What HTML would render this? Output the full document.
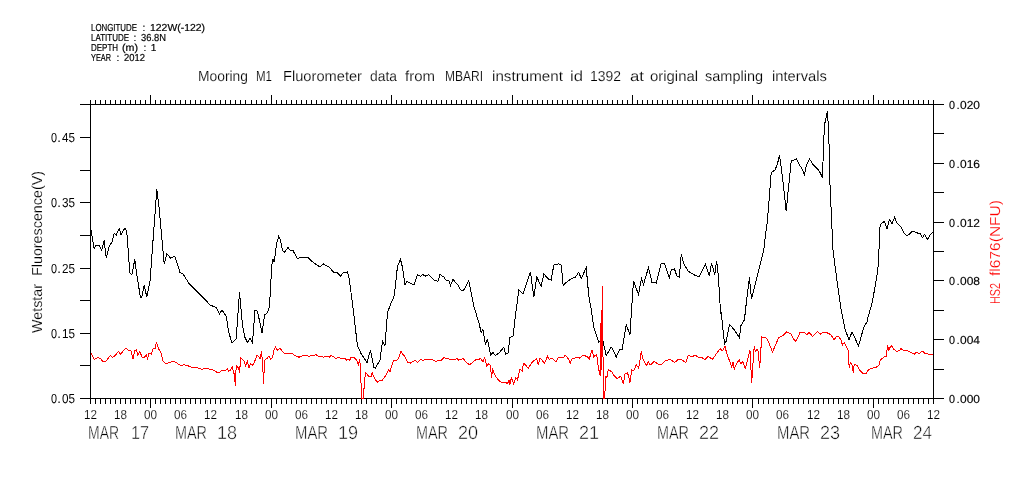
<!DOCTYPE html>
<html><head><meta charset="utf-8"><title>Mooring M1 Fluorometer</title>
<style>html,body{margin:0;padding:0;background:#fff;width:1009px;height:504px;overflow:hidden}svg{display:block}text{font-family:"Liberation Sans",sans-serif}</style>
</head><body><svg width="1009" height="504" viewBox="0 0 1009 504">
<rect width="1009" height="504" fill="#fff"/>
<g shape-rendering="crispEdges"><rect x="80" y="104" width="864" height="1" fill="#000"/><rect x="80" y="398" width="864" height="1" fill="#000"/><rect x="90" y="104" width="1" height="295" fill="#000"/><rect x="933" y="104" width="1" height="295" fill="#000"/><rect x="90" y="100" width="1" height="4" fill="#000"/><rect x="90" y="399" width="1" height="5" fill="#000"/><rect x="95" y="100" width="1" height="4" fill="#000"/><rect x="95" y="399" width="1" height="5" fill="#000"/><rect x="100" y="100" width="1" height="4" fill="#000"/><rect x="100" y="399" width="1" height="5" fill="#000"/><rect x="105" y="100" width="1" height="4" fill="#000"/><rect x="105" y="399" width="1" height="5" fill="#000"/><rect x="110" y="100" width="1" height="4" fill="#000"/><rect x="110" y="399" width="1" height="5" fill="#000"/><rect x="115" y="100" width="1" height="4" fill="#000"/><rect x="115" y="399" width="1" height="5" fill="#000"/><rect x="120" y="100" width="1" height="4" fill="#000"/><rect x="120" y="399" width="1" height="5" fill="#000"/><rect x="125" y="100" width="1" height="4" fill="#000"/><rect x="125" y="399" width="1" height="5" fill="#000"/><rect x="130" y="100" width="1" height="4" fill="#000"/><rect x="130" y="399" width="1" height="5" fill="#000"/><rect x="135" y="100" width="1" height="4" fill="#000"/><rect x="135" y="399" width="1" height="5" fill="#000"/><rect x="140" y="100" width="1" height="4" fill="#000"/><rect x="140" y="399" width="1" height="5" fill="#000"/><rect x="145" y="100" width="1" height="4" fill="#000"/><rect x="145" y="399" width="1" height="5" fill="#000"/><rect x="150" y="95" width="1" height="9" fill="#000"/><rect x="150" y="399" width="1" height="9" fill="#000"/><rect x="155" y="100" width="1" height="4" fill="#000"/><rect x="155" y="399" width="1" height="5" fill="#000"/><rect x="160" y="100" width="1" height="4" fill="#000"/><rect x="160" y="399" width="1" height="5" fill="#000"/><rect x="165" y="100" width="1" height="4" fill="#000"/><rect x="165" y="399" width="1" height="5" fill="#000"/><rect x="170" y="100" width="1" height="4" fill="#000"/><rect x="170" y="399" width="1" height="5" fill="#000"/><rect x="175" y="100" width="1" height="4" fill="#000"/><rect x="175" y="399" width="1" height="5" fill="#000"/><rect x="180" y="100" width="1" height="4" fill="#000"/><rect x="180" y="399" width="1" height="5" fill="#000"/><rect x="185" y="100" width="1" height="4" fill="#000"/><rect x="185" y="399" width="1" height="5" fill="#000"/><rect x="190" y="100" width="1" height="4" fill="#000"/><rect x="190" y="399" width="1" height="5" fill="#000"/><rect x="195" y="100" width="1" height="4" fill="#000"/><rect x="195" y="399" width="1" height="5" fill="#000"/><rect x="200" y="100" width="1" height="4" fill="#000"/><rect x="200" y="399" width="1" height="5" fill="#000"/><rect x="205" y="100" width="1" height="4" fill="#000"/><rect x="205" y="399" width="1" height="5" fill="#000"/><rect x="210" y="100" width="1" height="4" fill="#000"/><rect x="210" y="399" width="1" height="5" fill="#000"/><rect x="215" y="100" width="1" height="4" fill="#000"/><rect x="215" y="399" width="1" height="5" fill="#000"/><rect x="220" y="100" width="1" height="4" fill="#000"/><rect x="220" y="399" width="1" height="5" fill="#000"/><rect x="225" y="100" width="1" height="4" fill="#000"/><rect x="225" y="399" width="1" height="5" fill="#000"/><rect x="230" y="100" width="1" height="4" fill="#000"/><rect x="230" y="399" width="1" height="5" fill="#000"/><rect x="235" y="100" width="1" height="4" fill="#000"/><rect x="235" y="399" width="1" height="5" fill="#000"/><rect x="240" y="100" width="1" height="4" fill="#000"/><rect x="240" y="399" width="1" height="5" fill="#000"/><rect x="245" y="100" width="1" height="4" fill="#000"/><rect x="245" y="399" width="1" height="5" fill="#000"/><rect x="251" y="100" width="1" height="4" fill="#000"/><rect x="251" y="399" width="1" height="5" fill="#000"/><rect x="256" y="100" width="1" height="4" fill="#000"/><rect x="256" y="399" width="1" height="5" fill="#000"/><rect x="261" y="100" width="1" height="4" fill="#000"/><rect x="261" y="399" width="1" height="5" fill="#000"/><rect x="266" y="100" width="1" height="4" fill="#000"/><rect x="266" y="399" width="1" height="5" fill="#000"/><rect x="271" y="95" width="1" height="9" fill="#000"/><rect x="271" y="399" width="1" height="9" fill="#000"/><rect x="276" y="100" width="1" height="4" fill="#000"/><rect x="276" y="399" width="1" height="5" fill="#000"/><rect x="281" y="100" width="1" height="4" fill="#000"/><rect x="281" y="399" width="1" height="5" fill="#000"/><rect x="286" y="100" width="1" height="4" fill="#000"/><rect x="286" y="399" width="1" height="5" fill="#000"/><rect x="291" y="100" width="1" height="4" fill="#000"/><rect x="291" y="399" width="1" height="5" fill="#000"/><rect x="296" y="100" width="1" height="4" fill="#000"/><rect x="296" y="399" width="1" height="5" fill="#000"/><rect x="301" y="100" width="1" height="4" fill="#000"/><rect x="301" y="399" width="1" height="5" fill="#000"/><rect x="306" y="100" width="1" height="4" fill="#000"/><rect x="306" y="399" width="1" height="5" fill="#000"/><rect x="311" y="100" width="1" height="4" fill="#000"/><rect x="311" y="399" width="1" height="5" fill="#000"/><rect x="316" y="100" width="1" height="4" fill="#000"/><rect x="316" y="399" width="1" height="5" fill="#000"/><rect x="321" y="100" width="1" height="4" fill="#000"/><rect x="321" y="399" width="1" height="5" fill="#000"/><rect x="326" y="100" width="1" height="4" fill="#000"/><rect x="326" y="399" width="1" height="5" fill="#000"/><rect x="331" y="100" width="1" height="4" fill="#000"/><rect x="331" y="399" width="1" height="5" fill="#000"/><rect x="336" y="100" width="1" height="4" fill="#000"/><rect x="336" y="399" width="1" height="5" fill="#000"/><rect x="341" y="100" width="1" height="4" fill="#000"/><rect x="341" y="399" width="1" height="5" fill="#000"/><rect x="346" y="100" width="1" height="4" fill="#000"/><rect x="346" y="399" width="1" height="5" fill="#000"/><rect x="351" y="100" width="1" height="4" fill="#000"/><rect x="351" y="399" width="1" height="5" fill="#000"/><rect x="356" y="100" width="1" height="4" fill="#000"/><rect x="356" y="399" width="1" height="5" fill="#000"/><rect x="361" y="100" width="1" height="4" fill="#000"/><rect x="361" y="399" width="1" height="5" fill="#000"/><rect x="366" y="100" width="1" height="4" fill="#000"/><rect x="366" y="399" width="1" height="5" fill="#000"/><rect x="371" y="100" width="1" height="4" fill="#000"/><rect x="371" y="399" width="1" height="5" fill="#000"/><rect x="376" y="100" width="1" height="4" fill="#000"/><rect x="376" y="399" width="1" height="5" fill="#000"/><rect x="381" y="100" width="1" height="4" fill="#000"/><rect x="381" y="399" width="1" height="5" fill="#000"/><rect x="386" y="100" width="1" height="4" fill="#000"/><rect x="386" y="399" width="1" height="5" fill="#000"/><rect x="391" y="95" width="1" height="9" fill="#000"/><rect x="391" y="399" width="1" height="9" fill="#000"/><rect x="396" y="100" width="1" height="4" fill="#000"/><rect x="396" y="399" width="1" height="5" fill="#000"/><rect x="401" y="100" width="1" height="4" fill="#000"/><rect x="401" y="399" width="1" height="5" fill="#000"/><rect x="406" y="100" width="1" height="4" fill="#000"/><rect x="406" y="399" width="1" height="5" fill="#000"/><rect x="411" y="100" width="1" height="4" fill="#000"/><rect x="411" y="399" width="1" height="5" fill="#000"/><rect x="416" y="100" width="1" height="4" fill="#000"/><rect x="416" y="399" width="1" height="5" fill="#000"/><rect x="421" y="100" width="1" height="4" fill="#000"/><rect x="421" y="399" width="1" height="5" fill="#000"/><rect x="426" y="100" width="1" height="4" fill="#000"/><rect x="426" y="399" width="1" height="5" fill="#000"/><rect x="431" y="100" width="1" height="4" fill="#000"/><rect x="431" y="399" width="1" height="5" fill="#000"/><rect x="436" y="100" width="1" height="4" fill="#000"/><rect x="436" y="399" width="1" height="5" fill="#000"/><rect x="441" y="100" width="1" height="4" fill="#000"/><rect x="441" y="399" width="1" height="5" fill="#000"/><rect x="446" y="100" width="1" height="4" fill="#000"/><rect x="446" y="399" width="1" height="5" fill="#000"/><rect x="451" y="100" width="1" height="4" fill="#000"/><rect x="451" y="399" width="1" height="5" fill="#000"/><rect x="456" y="100" width="1" height="4" fill="#000"/><rect x="456" y="399" width="1" height="5" fill="#000"/><rect x="461" y="100" width="1" height="4" fill="#000"/><rect x="461" y="399" width="1" height="5" fill="#000"/><rect x="466" y="100" width="1" height="4" fill="#000"/><rect x="466" y="399" width="1" height="5" fill="#000"/><rect x="471" y="100" width="1" height="4" fill="#000"/><rect x="471" y="399" width="1" height="5" fill="#000"/><rect x="476" y="100" width="1" height="4" fill="#000"/><rect x="476" y="399" width="1" height="5" fill="#000"/><rect x="481" y="100" width="1" height="4" fill="#000"/><rect x="481" y="399" width="1" height="5" fill="#000"/><rect x="486" y="100" width="1" height="4" fill="#000"/><rect x="486" y="399" width="1" height="5" fill="#000"/><rect x="491" y="100" width="1" height="4" fill="#000"/><rect x="491" y="399" width="1" height="5" fill="#000"/><rect x="496" y="100" width="1" height="4" fill="#000"/><rect x="496" y="399" width="1" height="5" fill="#000"/><rect x="501" y="100" width="1" height="4" fill="#000"/><rect x="501" y="399" width="1" height="5" fill="#000"/><rect x="507" y="100" width="1" height="4" fill="#000"/><rect x="507" y="399" width="1" height="5" fill="#000"/><rect x="512" y="95" width="1" height="9" fill="#000"/><rect x="512" y="399" width="1" height="9" fill="#000"/><rect x="517" y="100" width="1" height="4" fill="#000"/><rect x="517" y="399" width="1" height="5" fill="#000"/><rect x="522" y="100" width="1" height="4" fill="#000"/><rect x="522" y="399" width="1" height="5" fill="#000"/><rect x="527" y="100" width="1" height="4" fill="#000"/><rect x="527" y="399" width="1" height="5" fill="#000"/><rect x="532" y="100" width="1" height="4" fill="#000"/><rect x="532" y="399" width="1" height="5" fill="#000"/><rect x="537" y="100" width="1" height="4" fill="#000"/><rect x="537" y="399" width="1" height="5" fill="#000"/><rect x="542" y="100" width="1" height="4" fill="#000"/><rect x="542" y="399" width="1" height="5" fill="#000"/><rect x="547" y="100" width="1" height="4" fill="#000"/><rect x="547" y="399" width="1" height="5" fill="#000"/><rect x="552" y="100" width="1" height="4" fill="#000"/><rect x="552" y="399" width="1" height="5" fill="#000"/><rect x="557" y="100" width="1" height="4" fill="#000"/><rect x="557" y="399" width="1" height="5" fill="#000"/><rect x="562" y="100" width="1" height="4" fill="#000"/><rect x="562" y="399" width="1" height="5" fill="#000"/><rect x="567" y="100" width="1" height="4" fill="#000"/><rect x="567" y="399" width="1" height="5" fill="#000"/><rect x="572" y="100" width="1" height="4" fill="#000"/><rect x="572" y="399" width="1" height="5" fill="#000"/><rect x="577" y="100" width="1" height="4" fill="#000"/><rect x="577" y="399" width="1" height="5" fill="#000"/><rect x="582" y="100" width="1" height="4" fill="#000"/><rect x="582" y="399" width="1" height="5" fill="#000"/><rect x="587" y="100" width="1" height="4" fill="#000"/><rect x="587" y="399" width="1" height="5" fill="#000"/><rect x="592" y="100" width="1" height="4" fill="#000"/><rect x="592" y="399" width="1" height="5" fill="#000"/><rect x="597" y="100" width="1" height="4" fill="#000"/><rect x="597" y="399" width="1" height="5" fill="#000"/><rect x="602" y="100" width="1" height="4" fill="#000"/><rect x="602" y="399" width="1" height="5" fill="#000"/><rect x="607" y="100" width="1" height="4" fill="#000"/><rect x="607" y="399" width="1" height="5" fill="#000"/><rect x="612" y="100" width="1" height="4" fill="#000"/><rect x="612" y="399" width="1" height="5" fill="#000"/><rect x="617" y="100" width="1" height="4" fill="#000"/><rect x="617" y="399" width="1" height="5" fill="#000"/><rect x="622" y="100" width="1" height="4" fill="#000"/><rect x="622" y="399" width="1" height="5" fill="#000"/><rect x="627" y="100" width="1" height="4" fill="#000"/><rect x="627" y="399" width="1" height="5" fill="#000"/><rect x="632" y="95" width="1" height="9" fill="#000"/><rect x="632" y="399" width="1" height="9" fill="#000"/><rect x="637" y="100" width="1" height="4" fill="#000"/><rect x="637" y="399" width="1" height="5" fill="#000"/><rect x="642" y="100" width="1" height="4" fill="#000"/><rect x="642" y="399" width="1" height="5" fill="#000"/><rect x="647" y="100" width="1" height="4" fill="#000"/><rect x="647" y="399" width="1" height="5" fill="#000"/><rect x="652" y="100" width="1" height="4" fill="#000"/><rect x="652" y="399" width="1" height="5" fill="#000"/><rect x="657" y="100" width="1" height="4" fill="#000"/><rect x="657" y="399" width="1" height="5" fill="#000"/><rect x="662" y="100" width="1" height="4" fill="#000"/><rect x="662" y="399" width="1" height="5" fill="#000"/><rect x="667" y="100" width="1" height="4" fill="#000"/><rect x="667" y="399" width="1" height="5" fill="#000"/><rect x="672" y="100" width="1" height="4" fill="#000"/><rect x="672" y="399" width="1" height="5" fill="#000"/><rect x="677" y="100" width="1" height="4" fill="#000"/><rect x="677" y="399" width="1" height="5" fill="#000"/><rect x="682" y="100" width="1" height="4" fill="#000"/><rect x="682" y="399" width="1" height="5" fill="#000"/><rect x="687" y="100" width="1" height="4" fill="#000"/><rect x="687" y="399" width="1" height="5" fill="#000"/><rect x="692" y="100" width="1" height="4" fill="#000"/><rect x="692" y="399" width="1" height="5" fill="#000"/><rect x="697" y="100" width="1" height="4" fill="#000"/><rect x="697" y="399" width="1" height="5" fill="#000"/><rect x="702" y="100" width="1" height="4" fill="#000"/><rect x="702" y="399" width="1" height="5" fill="#000"/><rect x="707" y="100" width="1" height="4" fill="#000"/><rect x="707" y="399" width="1" height="5" fill="#000"/><rect x="712" y="100" width="1" height="4" fill="#000"/><rect x="712" y="399" width="1" height="5" fill="#000"/><rect x="717" y="100" width="1" height="4" fill="#000"/><rect x="717" y="399" width="1" height="5" fill="#000"/><rect x="722" y="100" width="1" height="4" fill="#000"/><rect x="722" y="399" width="1" height="5" fill="#000"/><rect x="727" y="100" width="1" height="4" fill="#000"/><rect x="727" y="399" width="1" height="5" fill="#000"/><rect x="732" y="100" width="1" height="4" fill="#000"/><rect x="732" y="399" width="1" height="5" fill="#000"/><rect x="737" y="100" width="1" height="4" fill="#000"/><rect x="737" y="399" width="1" height="5" fill="#000"/><rect x="742" y="100" width="1" height="4" fill="#000"/><rect x="742" y="399" width="1" height="5" fill="#000"/><rect x="747" y="100" width="1" height="4" fill="#000"/><rect x="747" y="399" width="1" height="5" fill="#000"/><rect x="752" y="95" width="1" height="9" fill="#000"/><rect x="752" y="399" width="1" height="9" fill="#000"/><rect x="758" y="100" width="1" height="4" fill="#000"/><rect x="758" y="399" width="1" height="5" fill="#000"/><rect x="763" y="100" width="1" height="4" fill="#000"/><rect x="763" y="399" width="1" height="5" fill="#000"/><rect x="768" y="100" width="1" height="4" fill="#000"/><rect x="768" y="399" width="1" height="5" fill="#000"/><rect x="773" y="100" width="1" height="4" fill="#000"/><rect x="773" y="399" width="1" height="5" fill="#000"/><rect x="778" y="100" width="1" height="4" fill="#000"/><rect x="778" y="399" width="1" height="5" fill="#000"/><rect x="783" y="100" width="1" height="4" fill="#000"/><rect x="783" y="399" width="1" height="5" fill="#000"/><rect x="788" y="100" width="1" height="4" fill="#000"/><rect x="788" y="399" width="1" height="5" fill="#000"/><rect x="793" y="100" width="1" height="4" fill="#000"/><rect x="793" y="399" width="1" height="5" fill="#000"/><rect x="798" y="100" width="1" height="4" fill="#000"/><rect x="798" y="399" width="1" height="5" fill="#000"/><rect x="803" y="100" width="1" height="4" fill="#000"/><rect x="803" y="399" width="1" height="5" fill="#000"/><rect x="808" y="100" width="1" height="4" fill="#000"/><rect x="808" y="399" width="1" height="5" fill="#000"/><rect x="813" y="100" width="1" height="4" fill="#000"/><rect x="813" y="399" width="1" height="5" fill="#000"/><rect x="818" y="100" width="1" height="4" fill="#000"/><rect x="818" y="399" width="1" height="5" fill="#000"/><rect x="823" y="100" width="1" height="4" fill="#000"/><rect x="823" y="399" width="1" height="5" fill="#000"/><rect x="828" y="100" width="1" height="4" fill="#000"/><rect x="828" y="399" width="1" height="5" fill="#000"/><rect x="833" y="100" width="1" height="4" fill="#000"/><rect x="833" y="399" width="1" height="5" fill="#000"/><rect x="838" y="100" width="1" height="4" fill="#000"/><rect x="838" y="399" width="1" height="5" fill="#000"/><rect x="843" y="100" width="1" height="4" fill="#000"/><rect x="843" y="399" width="1" height="5" fill="#000"/><rect x="848" y="100" width="1" height="4" fill="#000"/><rect x="848" y="399" width="1" height="5" fill="#000"/><rect x="853" y="100" width="1" height="4" fill="#000"/><rect x="853" y="399" width="1" height="5" fill="#000"/><rect x="858" y="100" width="1" height="4" fill="#000"/><rect x="858" y="399" width="1" height="5" fill="#000"/><rect x="863" y="100" width="1" height="4" fill="#000"/><rect x="863" y="399" width="1" height="5" fill="#000"/><rect x="868" y="100" width="1" height="4" fill="#000"/><rect x="868" y="399" width="1" height="5" fill="#000"/><rect x="873" y="95" width="1" height="9" fill="#000"/><rect x="873" y="399" width="1" height="9" fill="#000"/><rect x="878" y="100" width="1" height="4" fill="#000"/><rect x="878" y="399" width="1" height="5" fill="#000"/><rect x="883" y="100" width="1" height="4" fill="#000"/><rect x="883" y="399" width="1" height="5" fill="#000"/><rect x="888" y="100" width="1" height="4" fill="#000"/><rect x="888" y="399" width="1" height="5" fill="#000"/><rect x="893" y="100" width="1" height="4" fill="#000"/><rect x="893" y="399" width="1" height="5" fill="#000"/><rect x="898" y="100" width="1" height="4" fill="#000"/><rect x="898" y="399" width="1" height="5" fill="#000"/><rect x="903" y="100" width="1" height="4" fill="#000"/><rect x="903" y="399" width="1" height="5" fill="#000"/><rect x="908" y="100" width="1" height="4" fill="#000"/><rect x="908" y="399" width="1" height="5" fill="#000"/><rect x="913" y="100" width="1" height="4" fill="#000"/><rect x="913" y="399" width="1" height="5" fill="#000"/><rect x="918" y="100" width="1" height="4" fill="#000"/><rect x="918" y="399" width="1" height="5" fill="#000"/><rect x="923" y="100" width="1" height="4" fill="#000"/><rect x="923" y="399" width="1" height="5" fill="#000"/><rect x="928" y="100" width="1" height="4" fill="#000"/><rect x="928" y="399" width="1" height="5" fill="#000"/><rect x="933" y="100" width="1" height="4" fill="#000"/><rect x="933" y="399" width="1" height="5" fill="#000"/><rect x="80" y="398" width="10" height="1" fill="#000"/><rect x="80" y="365" width="10" height="1" fill="#000"/><rect x="80" y="333" width="10" height="1" fill="#000"/><rect x="80" y="300" width="10" height="1" fill="#000"/><rect x="80" y="268" width="10" height="1" fill="#000"/><rect x="80" y="235" width="10" height="1" fill="#000"/><rect x="80" y="202" width="10" height="1" fill="#000"/><rect x="80" y="170" width="10" height="1" fill="#000"/><rect x="80" y="137" width="10" height="1" fill="#000"/><rect x="80" y="104" width="10" height="1" fill="#000"/><rect x="934" y="398" width="10" height="1" fill="#000"/><rect x="934" y="369" width="10" height="1" fill="#000"/><rect x="934" y="339" width="10" height="1" fill="#000"/><rect x="934" y="310" width="10" height="1" fill="#000"/><rect x="934" y="280" width="10" height="1" fill="#000"/><rect x="934" y="251" width="10" height="1" fill="#000"/><rect x="934" y="222" width="10" height="1" fill="#000"/><rect x="934" y="192" width="10" height="1" fill="#000"/><rect x="934" y="163" width="10" height="1" fill="#000"/><rect x="934" y="133" width="10" height="1" fill="#000"/><rect x="934" y="104" width="10" height="1" fill="#000"/></g>
<path d="M90.5,227.5 L94.2,248.8 L96.0,245.5 L99.2,245.5 L101.8,250.0 L104.2,240.5 L106.2,258.0 L109.2,246.2 L111.8,242.5 L114.2,233.2 L116.2,235.0 L119.2,228.8 L121.0,234.5 L124.8,228.2 L126.8,231.8 L129.8,272.5 L131.8,275.0 L134.8,259.5 L137.2,277.5 L140.5,297.5 L141.8,297.5 L144.2,285.5 L146.8,297.0 L150.0,281.2 L156.8,189.5 L159.2,208.8 L164.2,263.8 L166.8,253.8 L170.5,258.0 L174.8,256.2 L180.0,272.5 L183.0,273.8 L189.2,283.8 L198.0,292.5 L205.5,300.0 L210.0,305.0 L216.2,307.5 L219.5,313.8 L222.0,310.0 L226.2,316.2 L228.8,332.5 L232.0,343.0 L236.2,338.8 L239.5,292.5 L242.5,325.0 L245.0,337.5 L247.5,342.5 L250.0,338.0 L252.5,342.5 L255.0,310.0 L257.5,311.2 L262.0,333.0 L264.5,315.0 L267.5,312.5 L269.5,306.2 L271.8,265.0 L273.0,258.8 L274.2,262.0 L276.8,242.5 L278.8,236.2 L280.5,240.0 L282.5,250.0 L284.2,252.5 L288.0,247.5 L290.0,250.0 L293.0,250.5 L297.5,258.8 L300.5,257.5 L304.2,257.0 L308.0,257.5 L311.8,261.2 L316.8,265.0 L320.0,267.0 L323.0,263.8 L329.2,267.0 L334.2,273.0 L336.8,272.0 L340.5,276.2 L343.0,273.0 L347.5,272.0 L349.2,278.8 L353.0,307.5 L357.5,346.2 L361.2,353.8 L367.0,362.5 L370.5,350.0 L373.8,367.5 L375.5,368.0 L380.0,360.0 L382.5,341.2 L385.0,345.5 L387.5,312.5 L391.2,302.5 L393.8,297.5 L395.0,288.8 L397.5,266.2 L400.5,259.5 L402.5,267.5 L405.0,285.0 L407.0,281.2 L410.0,283.0 L413.8,285.0 L417.5,275.0 L420.5,276.2 L423.0,274.5 L425.0,276.2 L428.8,274.5 L432.5,278.8 L435.0,280.5 L438.0,281.2 L440.0,274.5 L443.8,277.0 L446.2,280.5 L448.8,280.0 L450.5,285.5 L453.0,279.5 L457.5,284.5 L460.8,290.0 L463.8,290.0 L468.8,280.5 L473.8,306.2 L478.8,322.5 L481.2,332.5 L483.0,329.5 L485.5,345.0 L487.5,338.8 L490.5,355.0 L493.0,352.5 L495.5,355.5 L500.0,352.0 L503.8,347.0 L505.5,354.5 L508.0,353.0 L510.0,337.5 L513.0,336.2 L515.5,315.0 L518.8,290.0 L521.2,292.0 L523.0,293.8 L530.5,272.0 L533.8,297.0 L536.8,277.0 L541.2,286.2 L543.8,273.8 L548.0,278.8 L551.2,280.0 L553.8,265.0 L558.8,263.8 L561.2,265.0 L563.2,285.5 L566.2,282.5 L571.2,278.8 L575.5,277.0 L578.8,272.0 L581.2,278.8 L586.2,267.5 L588.8,296.2 L591.2,308.8 L593.8,327.5 L596.2,334.5 L598.8,342.0 L603.0,341.2 L606.2,355.5 L608.8,351.2 L611.2,347.0 L613.8,351.2 L616.2,357.0 L620.0,348.8 L622.0,350.0 L626.2,325.0 L630.0,334.5 L632.5,295.0 L633.5,281.2 L638.5,294.4 L641.5,278.5 L643.5,284.4 L648.5,267.5 L651.9,282.2 L656.2,283.1 L661.0,263.8 L664.4,263.5 L669.4,277.5 L671.2,270.0 L674.4,268.8 L676.9,276.0 L679.4,277.2 L681.2,254.4 L683.8,263.8 L688.1,271.2 L694.4,275.0 L699.4,276.9 L701.2,272.5 L705.6,264.4 L709.4,276.2 L711.5,263.1 L714.8,274.4 L716.5,261.2 L717.5,267.5 L718.5,278.8 L720.6,313.0 L721.2,312.5 L724.5,343.8 L726.2,341.2 L729.5,324.5 L734.5,330.0 L739.5,338.0 L740.6,326.2 L744.4,320.0 L746.9,297.5 L749.4,277.5 L751.5,299.4 L755.6,282.5 L763.8,250.0 L765.5,235.0 L767.5,220.0 L771.2,172.5 L775.0,170.0 L777.5,163.8 L779.5,155.0 L782.5,177.5 L786.2,211.2 L788.0,192.5 L791.2,161.2 L793.8,160.0 L796.2,158.8 L798.8,163.8 L801.2,167.5 L804.5,174.5 L806.2,166.2 L809.5,158.8 L812.5,163.8 L817.5,168.8 L820.0,172.5 L822.5,177.5 L823.8,137.5 L825.0,122.5 L827.5,111.2 L828.8,135.0 L830.0,185.0 L833.0,250.0 L837.5,285.0 L841.2,310.0 L845.0,328.8 L849.0,340.0 L852.0,331.7 L858.5,346.0 L863.7,327.5 L867.5,320.8 L868.0,317.5 L872.5,301.2 L877.5,272.5 L878.8,257.5 L879.5,228.0 L881.2,223.8 L884.5,221.2 L887.0,228.8 L889.5,219.5 L892.0,223.8 L894.5,217.5 L897.5,223.8 L900.5,226.2 L903.8,232.5 L907.0,236.2 L912.5,231.2 L917.5,233.0 L920.0,233.0 L922.5,237.5 L924.5,234.5 L927.5,239.5 L930.0,235.0 L933.5,231.2" fill="none" stroke="#000" stroke-width="1" stroke-linejoin="miter" shape-rendering="crispEdges"/>
<path d="M91.0,353.0 L94.3,359.2 L97.7,357.5 L100.5,358.7 L102.7,361.3 L106.0,361.3 L110.5,355.3 L112.7,357.5 L114.7,355.8 L118.8,351.3 L120.5,354.2 L125.5,348.3 L128.8,350.3 L131.0,350.8 L133.0,359.2 L134.7,350.8 L136.3,349.7 L137.7,355.0 L139.7,351.7 L142.2,357.0 L144.7,357.0 L146.3,355.0 L147.7,358.7 L148.8,353.3 L151.3,354.2 L153.0,348.7 L155.5,348.0 L156.3,342.0 L158.8,349.2 L161.3,353.3 L162.7,360.8 L166.0,363.7 L169.7,362.5 L173.8,361.3 L176.3,362.5 L178.0,364.2 L181.3,365.8 L183.8,364.7 L188.0,365.8 L192.2,367.5 L196.3,367.5 L201.3,369.2 L204.7,368.7 L208.0,368.7 L210.0,369.4 L212.5,369.6 L215.6,371.5 L218.1,372.8 L220.0,371.9 L222.5,370.2 L226.2,370.0 L227.5,368.8 L228.5,371.2 L230.6,370.0 L232.2,366.5 L233.1,370.0 L234.4,375.0 L235.4,385.6 L236.2,365.6 L237.8,366.9 L238.5,370.0 L239.4,365.6 L239.8,372.5 L240.4,357.5 L243.8,360.6 L245.6,365.6 L247.5,361.5 L249.0,368.1 L250.6,363.8 L252.5,365.0 L254.0,363.1 L256.9,355.6 L258.8,356.2 L260.0,358.8 L261.0,353.8 L261.5,351.5 L262.2,358.8 L263.1,373.8 L263.5,383.8 L264.0,373.8 L265.0,360.0 L266.9,358.5 L268.8,356.2 L270.6,359.0 L272.5,357.5 L274.0,350.0 L275.6,347.2 L277.5,350.2 L280.0,348.5 L281.9,350.6 L285.0,354.0 L288.8,353.5 L291.9,353.1 L293.8,354.8 L296.2,356.2 L299.0,357.2 L301.2,356.2 L306.2,355.2 L308.8,356.2 L316.2,354.8 L317.8,356.0 L321.9,356.2 L323.1,357.2 L326.9,356.0 L329.4,357.2 L330.6,355.6 L333.1,356.5 L336.0,358.5 L338.5,357.5 L341.6,358.5 L345.4,358.8 L346.6,360.0 L348.5,359.4 L349.8,360.2 L351.0,357.5 L354.1,357.5 L356.6,360.0 L358.5,365.6 L359.5,359.4 L360.4,366.2 L361.6,398.5 L363.2,398.5 L364.5,382.5 L365.4,372.5 L369.1,376.5 L371.0,376.5 L372.2,372.5 L374.1,377.5 L377.2,382.2 L379.8,380.2 L382.2,380.2 L384.8,376.9 L386.6,374.4 L388.5,369.8 L390.0,371.9 L391.6,365.6 L393.8,360.6 L396.0,361.0 L398.5,358.5 L401.0,351.5 L402.9,354.4 L404.8,356.2 L407.5,362.5 L411.0,363.1 L412.9,361.5 L415.4,360.6 L417.2,362.5 L420.4,359.8 L423.5,360.2 L425.0,359.4 L427.9,360.0 L430.4,359.4 L432.9,359.8 L435.4,361.5 L437.9,360.6 L441.0,360.6 L444.1,357.5 L446.0,359.0 L447.9,358.8 L452.2,359.8 L453.5,360.0 L457.2,358.5 L458.5,360.0 L460.0,359.7 L463.3,358.7 L465.8,361.7 L469.2,364.7 L471.7,363.3 L475.8,359.7 L478.3,360.0 L480.3,358.3 L483.0,362.0 L484.7,357.5 L486.7,365.8 L488.7,363.7 L490.0,365.0 L491.7,377.5 L492.5,369.2 L495.8,376.7 L500.0,381.7 L503.3,383.0 L505.8,382.5 L507.5,383.7 L509.2,379.7 L509.7,385.3 L511.3,377.5 L513.7,384.2 L515.8,377.5 L517.5,379.7 L520.0,369.2 L522.5,371.7 L523.3,363.0 L525.8,365.3 L528.3,368.3 L532.5,361.7 L536.7,358.7 L538.3,365.3 L539.7,358.7 L541.7,359.2 L544.2,363.7 L547.5,356.3 L549.2,359.2 L552.5,358.7 L555.8,362.0 L558.3,357.5 L561.7,357.0 L563.3,357.5 L565.3,355.3 L568.3,358.7 L570.3,363.3 L572.0,358.7 L575.0,358.0 L576.7,357.0 L579.2,358.3 L583.3,355.3 L587.5,356.7 L589.2,359.2 L592.0,349.7 L593.7,356.7 L596.7,354.2 L598.3,367.5 L600.3,375.8 L601.2,310.0 L601.8,370.0 L602.5,286.0 L603.3,398.5 L604.5,398.5 L606.0,376.0 L606.7,378.3 L608.3,369.7 L610.0,370.8 L611.7,371.7 L614.2,375.8 L617.0,378.7 L618.7,377.5 L620.8,376.3 L623.3,384.2 L625.0,374.2 L627.5,373.0 L628.7,376.7 L630.0,382.5 L631.7,369.7 L633.7,370.8 L636.3,364.7 L638.7,368.3 L641.3,351.3 L643.0,359.2 L646.7,365.8 L648.3,361.7 L650.0,365.3 L654.2,361.3 L658.3,364.2 L661.7,364.2 L665.8,360.3 L670.8,359.7 L674.7,362.5 L677.5,360.0 L681.7,359.7 L685.8,362.5 L688.3,355.0 L691.3,356.7 L695.8,355.3 L698.3,357.5 L702.5,358.0 L704.7,359.7 L708.0,356.3 L712.5,359.2 L716.7,353.3 L720.3,348.7 L722.5,350.8 L725.0,346.3 L726.7,353.3 L731.7,366.7 L733.0,361.7 L734.2,369.7 L735.8,365.0 L739.2,359.7 L740.8,363.7 L743.0,361.7 L745.3,368.3 L750.0,350.3 L751.7,382.5 L754.2,346.3 L755.3,351.7 L756.7,349.2 L758.0,350.8 L759.7,367.5 L761.7,337.0 L765.8,338.0 L767.5,339.7 L772.5,352.0 L778.7,337.5 L782.5,335.8 L786.7,331.7 L790.8,333.7 L793.0,338.0 L795.8,341.7 L800.0,332.5 L804.2,332.5 L806.7,334.7 L809.2,332.5 L812.5,336.3 L817.5,331.7 L820.8,334.2 L823.3,332.0 L827.5,333.0 L830.8,334.7 L834.2,339.7 L836.3,336.3 L839.2,337.0 L840.8,339.7 L842.5,345.0 L844.2,342.5 L848.3,350.8 L849.2,368.3 L850.3,362.5 L852.0,364.7 L853.3,372.5 L854.2,364.2 L857.0,365.3 L859.2,369.7 L862.5,373.0 L865.8,373.7 L868.3,370.0 L871.7,368.3 L875.8,367.5 L879.2,365.0 L880.3,359.7 L883.3,358.0 L884.7,356.3 L886.3,356.7 L887.5,345.3 L888.7,350.0 L891.3,345.3 L894.2,349.7 L896.7,351.3 L899.2,350.8 L900.8,348.7 L903.3,350.0 L907.5,350.8 L910.0,352.0 L914.2,354.2 L915.8,352.5 L919.2,353.3 L922.5,351.3 L925.0,353.3 L928.3,354.2 L933.0,354.2" fill="none" stroke="#f00" stroke-width="1" stroke-linejoin="miter" shape-rendering="crispEdges"/>
<g font-family="Liberation Sans, sans-serif" text-rendering="geometricPrecision" opacity="0.999"><text transform="translate(91.00,31.00) scale(0.3942,0.5072)" font-size="20" fill="#000" stroke="#000" stroke-width="0.422">LONGITUDE</text><text transform="translate(142.58,31.00) scale(0.5072,0.5072)" font-size="20" fill="#000" stroke="#000" stroke-width="0.422">:</text><text transform="translate(150.00,31.00) scale(0.5208,0.5072)" font-size="20" fill="#000" stroke="#000" stroke-width="0.422">122W(-122)</text><text transform="translate(91.00,41.00) scale(0.3992,0.5072)" font-size="20" fill="#000" stroke="#000" stroke-width="0.422">LATITUDE</text><text transform="translate(133.58,41.00) scale(0.5072,0.5072)" font-size="20" fill="#000" stroke="#000" stroke-width="0.422">:</text><text transform="translate(141.00,41.00) scale(0.4682,0.5072)" font-size="20" fill="#000" stroke="#000" stroke-width="0.422">36.8N</text><text transform="translate(91.00,51.00) scale(0.3982,0.5072)" font-size="20" fill="#000" stroke="#000" stroke-width="0.422">DEPTH</text><text transform="translate(122.00,51.00) scale(0.5333,0.5072)" font-size="20" fill="#000" stroke="#000" stroke-width="0.422">(m)</text><text transform="translate(143.58,51.00) scale(0.5072,0.5072)" font-size="20" fill="#000" stroke="#000" stroke-width="0.422">:</text><text transform="translate(150.68,51.00) scale(0.5072,0.5072)" font-size="20" fill="#000" stroke="#000" stroke-width="0.422">1</text><text transform="translate(91.00,61.00) scale(0.3670,0.5072)" font-size="20" fill="#000" stroke="#000" stroke-width="0.422">YEAR</text><text transform="translate(116.58,61.00) scale(0.5072,0.5072)" font-size="20" fill="#000" stroke="#000" stroke-width="0.422">:</text><text transform="translate(124.00,61.00) scale(0.4719,0.5072)" font-size="20" fill="#000" stroke="#000" stroke-width="0.422">2012</text><text transform="translate(198.00,81.00) scale(0.6916,0.7246)" font-size="20" fill="#000" stroke="#fff" stroke-width="0.240">Mooring</text><text transform="translate(256.00,81.00) scale(0.5755,0.7246)" font-size="20" fill="#000" stroke="#fff" stroke-width="0.240">M1</text><text transform="translate(283.00,81.00) scale(0.7328,0.7246)" font-size="20" fill="#000" stroke="#fff" stroke-width="0.240">Fluorometer</text><text transform="translate(370.00,81.00) scale(0.6923,0.7246)" font-size="20" fill="#000" stroke="#fff" stroke-width="0.240">data</text><text transform="translate(405.00,81.00) scale(0.7500,0.7246)" font-size="20" fill="#000" stroke="#fff" stroke-width="0.240">from</text><text transform="translate(445.00,81.00) scale(0.6003,0.7246)" font-size="20" fill="#000" stroke="#fff" stroke-width="0.240">MBARI</text><text transform="translate(492.00,81.00) scale(0.7602,0.7246)" font-size="20" fill="#000" stroke="#fff" stroke-width="0.240">instrument</text><text transform="translate(570.00,81.00) scale(0.8333,0.7246)" font-size="20" fill="#000" stroke="#fff" stroke-width="0.240">id</text><text transform="translate(590.00,81.00) scale(0.6966,0.7246)" font-size="20" fill="#000" stroke="#fff" stroke-width="0.240">1392</text><text transform="translate(630.00,81.00) scale(0.8383,0.7246)" font-size="20" fill="#000" stroke="#fff" stroke-width="0.240">at</text><text transform="translate(650.00,81.00) scale(0.7442,0.7246)" font-size="20" fill="#000" stroke="#fff" stroke-width="0.240">original</text><text transform="translate(705.00,81.00) scale(0.7250,0.7246)" font-size="20" fill="#000" stroke="#fff" stroke-width="0.240">sampling</text><text transform="translate(772.00,81.00) scale(0.7383,0.7246)" font-size="20" fill="#000" stroke="#fff" stroke-width="0.240">intervals</text><text transform="translate(51.00,403.00) scale(0.5405,0.6522)" font-size="20" fill="#000" stroke="#000" stroke-width="0.002">0</text><text transform="translate(57.17,403.00) scale(0.6522,0.6522)" font-size="20" fill="#000" stroke="#000" stroke-width="0.002">.</text><text transform="translate(62.00,403.00) scale(0.5856,0.6522)" font-size="20" fill="#000" stroke="#000" stroke-width="0.002">05</text><text transform="translate(51.00,338.00) scale(0.5405,0.6522)" font-size="20" fill="#000" stroke="#000" stroke-width="0.002">0</text><text transform="translate(57.17,338.00) scale(0.6522,0.6522)" font-size="20" fill="#000" stroke="#000" stroke-width="0.002">.</text><text transform="translate(62.00,338.00) scale(0.5856,0.6522)" font-size="20" fill="#000" stroke="#000" stroke-width="0.002">15</text><text transform="translate(51.00,273.00) scale(0.5405,0.6522)" font-size="20" fill="#000" stroke="#000" stroke-width="0.002">0</text><text transform="translate(57.17,273.00) scale(0.6522,0.6522)" font-size="20" fill="#000" stroke="#000" stroke-width="0.002">.</text><text transform="translate(62.00,273.00) scale(0.5856,0.6522)" font-size="20" fill="#000" stroke="#000" stroke-width="0.002">25</text><text transform="translate(51.00,207.00) scale(0.5405,0.6522)" font-size="20" fill="#000" stroke="#000" stroke-width="0.002">0</text><text transform="translate(57.17,207.00) scale(0.6522,0.6522)" font-size="20" fill="#000" stroke="#000" stroke-width="0.002">.</text><text transform="translate(62.00,207.00) scale(0.5856,0.6522)" font-size="20" fill="#000" stroke="#000" stroke-width="0.002">35</text><text transform="translate(51.00,142.00) scale(0.5405,0.6522)" font-size="20" fill="#000" stroke="#000" stroke-width="0.002">0</text><text transform="translate(57.17,142.00) scale(0.6522,0.6522)" font-size="20" fill="#000" stroke="#000" stroke-width="0.002">.</text><text transform="translate(62.00,142.00) scale(0.5856,0.6522)" font-size="20" fill="#000" stroke="#000" stroke-width="0.002">45</text><text transform="translate(949.00,403.00) scale(0.5405,0.5797)" font-size="20" fill="#000" stroke="#000" stroke-width="0.276">0</text><text transform="translate(956.38,403.00) scale(0.5797,0.5797)" font-size="20" fill="#000" stroke="#000" stroke-width="0.276">.</text><text transform="translate(960.00,403.00) scale(0.5988,0.5797)" font-size="20" fill="#000" stroke="#000" stroke-width="0.276">000</text><text transform="translate(949.00,344.00) scale(0.5405,0.5797)" font-size="20" fill="#000" stroke="#000" stroke-width="0.276">0</text><text transform="translate(956.38,344.00) scale(0.5797,0.5797)" font-size="20" fill="#000" stroke="#000" stroke-width="0.276">.</text><text transform="translate(960.00,344.00) scale(0.5988,0.5797)" font-size="20" fill="#000" stroke="#000" stroke-width="0.276">004</text><text transform="translate(949.00,285.00) scale(0.5405,0.5797)" font-size="20" fill="#000" stroke="#000" stroke-width="0.276">0</text><text transform="translate(956.38,285.00) scale(0.5797,0.5797)" font-size="20" fill="#000" stroke="#000" stroke-width="0.276">.</text><text transform="translate(960.00,285.00) scale(0.5988,0.5797)" font-size="20" fill="#000" stroke="#000" stroke-width="0.276">008</text><text transform="translate(949.00,227.00) scale(0.5405,0.5797)" font-size="20" fill="#000" stroke="#000" stroke-width="0.276">0</text><text transform="translate(956.38,227.00) scale(0.5797,0.5797)" font-size="20" fill="#000" stroke="#000" stroke-width="0.276">.</text><text transform="translate(960.00,227.00) scale(0.5988,0.5797)" font-size="20" fill="#000" stroke="#000" stroke-width="0.276">012</text><text transform="translate(949.00,168.00) scale(0.5405,0.5797)" font-size="20" fill="#000" stroke="#000" stroke-width="0.276">0</text><text transform="translate(956.38,168.00) scale(0.5797,0.5797)" font-size="20" fill="#000" stroke="#000" stroke-width="0.276">.</text><text transform="translate(960.00,168.00) scale(0.5988,0.5797)" font-size="20" fill="#000" stroke="#000" stroke-width="0.276">016</text><text transform="translate(949.00,109.00) scale(0.5405,0.5797)" font-size="20" fill="#000" stroke="#000" stroke-width="0.276">0</text><text transform="translate(956.38,109.00) scale(0.5797,0.5797)" font-size="20" fill="#000" stroke="#000" stroke-width="0.276">.</text><text transform="translate(960.00,109.00) scale(0.5988,0.5797)" font-size="20" fill="#000" stroke="#000" stroke-width="0.276">020</text><text transform="translate(84.00,419.00) scale(0.5856,0.6522)" font-size="20" fill="#000" stroke="#fff" stroke-width="0.267">12</text><text transform="translate(114.00,419.00) scale(0.5856,0.6522)" font-size="20" fill="#000" stroke="#fff" stroke-width="0.267">18</text><text transform="translate(144.00,419.00) scale(0.5856,0.6522)" font-size="20" fill="#000" stroke="#fff" stroke-width="0.267">00</text><text transform="translate(174.00,419.00) scale(0.5856,0.6522)" font-size="20" fill="#000" stroke="#fff" stroke-width="0.267">06</text><text transform="translate(204.00,419.00) scale(0.5856,0.6522)" font-size="20" fill="#000" stroke="#fff" stroke-width="0.267">12</text><text transform="translate(235.00,419.00) scale(0.5856,0.6522)" font-size="20" fill="#000" stroke="#fff" stroke-width="0.267">18</text><text transform="translate(265.00,419.00) scale(0.5856,0.6522)" font-size="20" fill="#000" stroke="#fff" stroke-width="0.267">00</text><text transform="translate(295.00,419.00) scale(0.5856,0.6522)" font-size="20" fill="#000" stroke="#fff" stroke-width="0.267">06</text><text transform="translate(325.00,419.00) scale(0.5856,0.6522)" font-size="20" fill="#000" stroke="#fff" stroke-width="0.267">12</text><text transform="translate(355.00,419.00) scale(0.5856,0.6522)" font-size="20" fill="#000" stroke="#fff" stroke-width="0.267">18</text><text transform="translate(385.00,419.00) scale(0.5856,0.6522)" font-size="20" fill="#000" stroke="#fff" stroke-width="0.267">00</text><text transform="translate(415.00,419.00) scale(0.5856,0.6522)" font-size="20" fill="#000" stroke="#fff" stroke-width="0.267">06</text><text transform="translate(445.00,419.00) scale(0.5856,0.6522)" font-size="20" fill="#000" stroke="#fff" stroke-width="0.267">12</text><text transform="translate(475.00,419.00) scale(0.5856,0.6522)" font-size="20" fill="#000" stroke="#fff" stroke-width="0.267">18</text><text transform="translate(506.00,419.00) scale(0.5856,0.6522)" font-size="20" fill="#000" stroke="#fff" stroke-width="0.267">00</text><text transform="translate(536.00,419.00) scale(0.5856,0.6522)" font-size="20" fill="#000" stroke="#fff" stroke-width="0.267">06</text><text transform="translate(566.00,419.00) scale(0.5856,0.6522)" font-size="20" fill="#000" stroke="#fff" stroke-width="0.267">12</text><text transform="translate(596.00,419.00) scale(0.5856,0.6522)" font-size="20" fill="#000" stroke="#fff" stroke-width="0.267">18</text><text transform="translate(626.00,419.00) scale(0.5856,0.6522)" font-size="20" fill="#000" stroke="#fff" stroke-width="0.267">00</text><text transform="translate(656.00,419.00) scale(0.5856,0.6522)" font-size="20" fill="#000" stroke="#fff" stroke-width="0.267">06</text><text transform="translate(686.00,419.00) scale(0.5856,0.6522)" font-size="20" fill="#000" stroke="#fff" stroke-width="0.267">12</text><text transform="translate(716.00,419.00) scale(0.5856,0.6522)" font-size="20" fill="#000" stroke="#fff" stroke-width="0.267">18</text><text transform="translate(746.00,419.00) scale(0.5856,0.6522)" font-size="20" fill="#000" stroke="#fff" stroke-width="0.267">00</text><text transform="translate(776.00,419.00) scale(0.5856,0.6522)" font-size="20" fill="#000" stroke="#fff" stroke-width="0.267">06</text><text transform="translate(807.00,419.00) scale(0.5856,0.6522)" font-size="20" fill="#000" stroke="#fff" stroke-width="0.267">12</text><text transform="translate(837.00,419.00) scale(0.5856,0.6522)" font-size="20" fill="#000" stroke="#fff" stroke-width="0.267">18</text><text transform="translate(867.00,419.00) scale(0.5856,0.6522)" font-size="20" fill="#000" stroke="#fff" stroke-width="0.267">00</text><text transform="translate(897.00,419.00) scale(0.5856,0.6522)" font-size="20" fill="#000" stroke="#fff" stroke-width="0.267">06</text><text transform="translate(927.00,419.00) scale(0.5856,0.6522)" font-size="20" fill="#000" stroke="#fff" stroke-width="0.267">12</text><text transform="translate(88.00,439.00) scale(0.6982,0.9420)" font-size="20" fill="#000" stroke="#fff" stroke-width="0.527">MAR</text><text transform="translate(131.00,439.00) scale(0.8108,0.9420)" font-size="20" fill="#000" stroke="#fff" stroke-width="0.527">17</text><text transform="translate(175.00,439.00) scale(0.7207,0.9420)" font-size="20" fill="#000" stroke="#fff" stroke-width="0.527">MAR</text><text transform="translate(217.00,439.00) scale(0.9009,0.9420)" font-size="20" fill="#000" stroke="#fff" stroke-width="0.527">18</text><text transform="translate(295.00,439.00) scale(0.7432,0.9420)" font-size="20" fill="#000" stroke="#fff" stroke-width="0.527">MAR</text><text transform="translate(338.00,439.00) scale(0.9009,0.9420)" font-size="20" fill="#000" stroke="#fff" stroke-width="0.527">19</text><text transform="translate(416.00,439.00) scale(0.7207,0.9420)" font-size="20" fill="#000" stroke="#fff" stroke-width="0.527">MAR</text><text transform="translate(458.00,439.00) scale(0.9009,0.9420)" font-size="20" fill="#000" stroke="#fff" stroke-width="0.527">20</text><text transform="translate(536.00,439.00) scale(0.7432,0.9420)" font-size="20" fill="#000" stroke="#fff" stroke-width="0.527">MAR</text><text transform="translate(579.00,439.00) scale(0.9009,0.9420)" font-size="20" fill="#000" stroke="#fff" stroke-width="0.527">21</text><text transform="translate(657.00,439.00) scale(0.7207,0.9420)" font-size="20" fill="#000" stroke="#fff" stroke-width="0.527">MAR</text><text transform="translate(699.00,439.00) scale(0.9009,0.9420)" font-size="20" fill="#000" stroke="#fff" stroke-width="0.527">22</text><text transform="translate(777.00,439.00) scale(0.7432,0.9420)" font-size="20" fill="#000" stroke="#fff" stroke-width="0.527">MAR</text><text transform="translate(820.00,439.00) scale(0.9009,0.9420)" font-size="20" fill="#000" stroke="#fff" stroke-width="0.527">23</text><text transform="translate(871.00,439.00) scale(0.7207,0.9420)" font-size="20" fill="#000" stroke="#fff" stroke-width="0.527">MAR</text><text transform="translate(913.00,439.00) scale(0.8559,0.9420)" font-size="20" fill="#000" stroke="#fff" stroke-width="0.527">24</text><text transform="translate(42.00,333.00) rotate(-90) scale(0.7153,0.7246)" font-size="20" fill="#000" stroke="#fff" stroke-width="0.240">Wetstar</text><text transform="translate(42.00,276.00) rotate(-90) scale(0.7157,0.7246)" font-size="20" fill="#000" stroke="#fff" stroke-width="0.240">Fluorescence(V)</text><text transform="translate(1000.00,304.00) rotate(-90) scale(0.5398,0.7246)" font-size="20" fill="#f00" stroke="#fff" stroke-width="0.270">HS2</text><text transform="translate(1000.00,276.00) rotate(-90) scale(0.7771,0.7246)" font-size="20" fill="#f00" stroke="#fff" stroke-width="0.270">fl676(NFU)</text></g>
</svg></body></html>
